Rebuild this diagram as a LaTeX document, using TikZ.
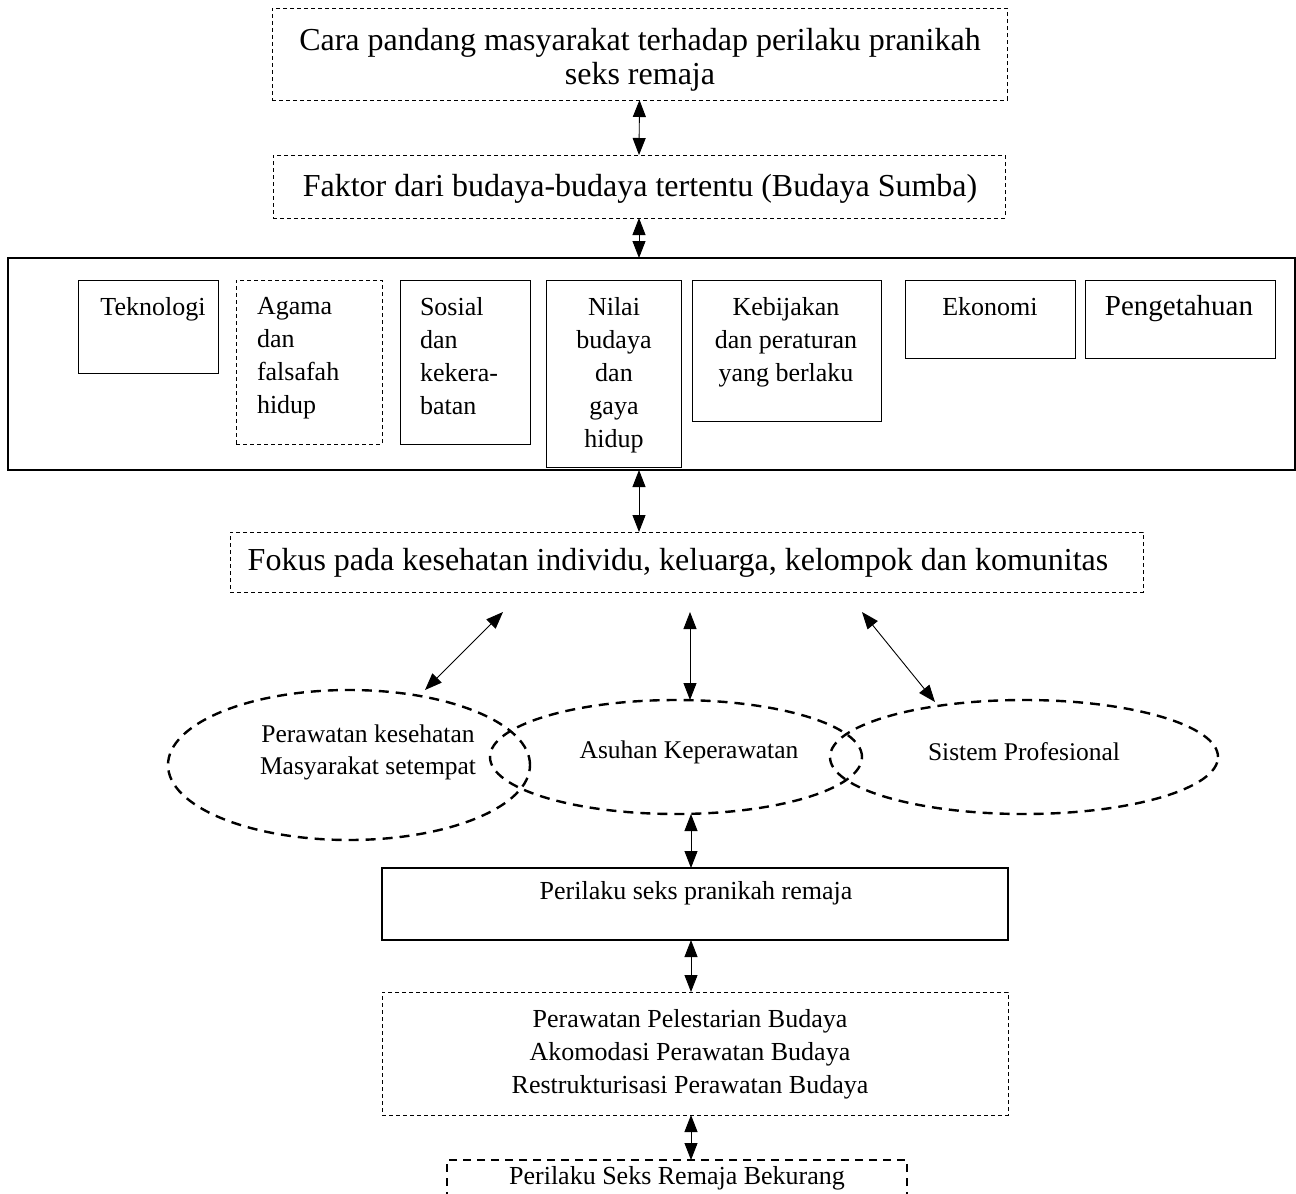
\documentclass[tikz,border=0pt]{standalone}
\usepackage{fontspec}
\setmainfont{Liberation Serif}
\usetikzlibrary{arrows.meta,shapes.geometric,calc}
\begin{document}
\begin{tikzpicture}[x=1pt,y=-1pt,
  every node/.style={inner sep=0pt,outer sep=0pt},
  thindash/.style={draw,line width=0.9pt,dash pattern=on 4pt off 3pt},
  solidbox/.style={draw,line width=1pt},
  bigbox/.style={draw,line width=2pt},
  heavybox/.style={draw,line width=2.4pt},
  lastbox/.style={draw,line width=1.8pt,dash pattern=on 8pt off 6pt},
  ell/.style={draw,ellipse,line width=2.4pt,dash pattern=on 10pt off 7pt},
  rect/.style={rectangle,anchor=north west},
  bigtxt/.style={font=\fontsize{32}{34}\selectfont,align=center},
  midtxt/.style={font=\fontsize{26}{33}\selectfont},
  elltxt/.style={font=\fontsize{25.5}{32}\selectfont},
  dbl/.style={line width=0.9pt,{Triangle[width=13pt,length=17pt]}-{Triangle[width=13pt,length=17pt]}}
]
\useasboundingbox (0,0) rectangle (1296,1194);
\clip (0,0) rectangle (1296,1194);

% top boxes
\node[rect,thindash,minimum width=735pt,minimum height=92pt] (b1) at (272,8) {};
\node[bigtxt] (b1t) at (640,60) {Cara pandang masyarakat terhadap perilaku pranikah\\seks remaja};
\node[rect,thindash,minimum width=732pt,minimum height=63pt] (b2) at (273,155) {};
\node[bigtxt] (b2t) at (640,189) {Faktor dari budaya-budaya tertentu (Budaya Sumba)};

% big box
\node[rect,bigbox,minimum width=1287pt,minimum height=212pt] (big) at (8,258) {};
\node[rect,solidbox,minimum width=140pt,minimum height=93pt] (tek) at (78,280) {};
\node[rect,thindash,minimum width=146pt,minimum height=164pt] (aga) at (236,280) {};
\node[rect,solidbox,minimum width=130pt,minimum height=164pt] (sos) at (400,280) {};
\node[rect,solidbox,minimum width=135pt,minimum height=187pt] (nil) at (546,280) {};
\node[rect,solidbox,minimum width=189pt,minimum height=141pt] (keb) at (692,280) {};
\node[rect,solidbox,minimum width=170pt,minimum height=78pt] (eko) at (905,280) {};
\node[rect,solidbox,minimum width=190pt,minimum height=78pt] (pen) at (1085,280) {};

\node[midtxt,anchor=north] (tekt) at (153,297) {Teknologi};
\node[midtxt,align=left,anchor=north west] (agat) at (257,297) {Agama\\dan\\falsafah\\hidup};
\node[midtxt,align=left,anchor=north west] (sost) at (420,297) {Sosial\\dan\\kekera-\\batan};
\node[midtxt,align=center,anchor=north] (nilt) at (614,297) {Nilai\\budaya\\dan\\gaya\\hidup};
\node[midtxt,align=center,anchor=north] (kebt) at (786,297) {Kebijakan\\dan peraturan\\yang berlaku};
\node[midtxt,anchor=north] (ekot) at (990,297) {Ekonomi};
\node[font=\fontsize{29}{33}\selectfont,anchor=north] (pent) at (1179,295) {Pengetahuan};

% focus box
\node[rect,thindash,minimum width=913pt,minimum height=60pt] (fok) at (230,532) {};
\node[bigtxt] (fokt) at (678,563) {Fokus pada kesehatan individu, keluarga, kelompok dan komunitas};

% ellipses
\node[ell,minimum width=362pt,minimum height=150pt] (e1) at (349,765) {};
\node[ell,minimum width=372pt,minimum height=114pt] (e2) at (676,757) {};
\node[ell,minimum width=388pt,minimum height=114pt] (e3) at (1024,757) {};
\node[elltxt,align=center] (e1t) at (368,752) {Perawatan kesehatan\\Masyarakat setempat};
\node[elltxt] (e2t) at (689,752) {Asuhan Keperawatan};
\node[elltxt] (e3t) at (1024,752) {Sistem Profesional};

% lower boxes
\node[rect,heavybox,minimum width=626pt,minimum height=72pt] (pr) at (382,868) {};
\node[midtxt] (prt) at (696,893) {Perilaku seks pranikah remaja};
\node[rect,thindash,minimum width=626pt,minimum height=123pt] (pw) at (382,992) {};
\node[midtxt,align=center] (pwt) at (690,1054) {Perawatan Pelestarian Budaya\\Akomodasi Perawatan Budaya\\Restrukturisasi Perawatan Budaya};
\node[rect,lastbox,minimum width=460pt,minimum height=70pt] (lb) at (447,1160) {};
\node[midtxt] (lbt) at (677,1178) {Perilaku Seks Remaja Bekurang};

% connectors
\coordinate (d1s) at ($(fok.south west)+(273,20)$);
\coordinate (d1e) at ($(e1.center)+(76,-75)$);
\coordinate (d2s) at ($(fok.south west)+(460,20)$);
\coordinate (d3s) at ($(fok.south west)+(632,20)$);
\coordinate (d3e) at ($(e3.center)+(-89,-55)$);
\coordinate (a4) at ($(e2.south)+(15,0)$);

\draw[dbl] (b1.south) -- (b2.north);
\draw[dbl] (b2.south) -- (b2.south |- big.north);
\draw[dbl] (b2.south |- big.south) -- (b2.south |- fok.north);
\draw[dbl] (d1s) -- (d1e);
\draw[dbl] (d2s) -- (d2s |- e2.north);
\draw[dbl] (d3s) -- (d3e);
\draw[dbl] (a4) -- (a4 |- pr.north);
\draw[dbl] (a4 |- pr.south) -- (a4 |- pw.north);
\draw[dbl] (a4 |- pw.south) -- (a4 |- lb.north);
\end{tikzpicture}
\end{document}
